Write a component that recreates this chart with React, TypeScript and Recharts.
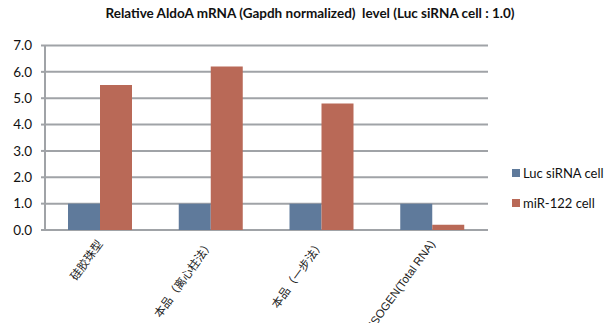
import React from "react";
import { BarChart, Bar, XAxis, YAxis, CartesianGrid } from "recharts";

const categories = ["硅胶珠型", "本品（离心柱法）", "本品（一步法）", "ISOGEN(Total RNA)"];
const lucSiRNA = [1.0, 1.0, 1.0, 1.0];
const mir122 = [5.5, 6.2, 4.8, 0.2];
const yTicks = [0, 1, 2, 3, 4, 5, 6, 7];
const boundaryTicks = [0, 1, 2, 3, 4];

const seriesNames = ["Luc siRNA cell", "miR-122 cell"];
const BLUE = "#5f7a9b";
const RED = "#b96957";
const GRID = "#a0a3a7";
const LATIN = "Lato, 'Liberation Sans', sans-serif";

const data = categories.map((name, i) => ({
  name,
  luc: lucSiRNA[i],
  mir: mir122[i],
}));

const CategoryTick = (props: any) => {
  const { x, y, payload } = props;
  const ax = x + 3;
  const ay = y + 6;
  return (
    <text
      x={ax}
      y={ay}
      transform={`rotate(-54, ${ax}, ${ay})`}
      textAnchor="end"
      fontSize={11.5}
      fill="#222"
      fontFamily="'Liberation Sans', 'Noto Sans CJK SC', sans-serif"
    >
      {payload.value}
    </text>
  );
};

// Series key drawn to the right of the plot area
const SeriesKey = () => (
  <div
    style={{
      position: "absolute",
      left: 512,
      top: 165,
      fontFamily: LATIN,
      fontSize: 13,
      color: "#111",
    }}
  >
    {seriesNames.map((n, i) => (
      <div
        key={n}
        style={{ display: "flex", alignItems: "center", height: 16, marginBottom: i === 0 ? 14 : 0, whiteSpace: "nowrap" }}
      >
        <span
          style={{
            display: "inline-block",
            width: 8,
            height: 8,
            background: i === 0 ? BLUE : RED,
            marginRight: 3,
          }}
        />
        <span>{n}</span>
      </div>
    ))}
  </div>
);

export default function App() {
  return (
    <div style={{ position: "absolute", left: 0, top: 0, width: 604, height: 323, background: "#fff", overflow: "hidden" }}>
      <BarChart
        width={604}
        height={323}
        data={data}
        margin={{ top: 45.5, right: 116, bottom: 0, left: 0 }}
        barGap={0}
        barSize={32}
      >
        <CartesianGrid xAxisId="c" vertical={false} stroke={GRID} strokeWidth={2} />
        <XAxis
          xAxisId="b"
          type="number"
          domain={[0, 4]}
          ticks={boundaryTicks}
          allowDataOverflow
          height={0}
          tick={false}
          tickSize={4}
          tickLine={{ stroke: GRID, strokeWidth: 1.5 }}
          axisLine={{ stroke: GRID, strokeWidth: 2 }}
        />
        <XAxis
          xAxisId="c"
          dataKey="name"
          height={93}
          interval={0}
          tickLine={false}
          axisLine={false}
          tick={<CategoryTick />}
        />
        <YAxis
          domain={[0, 7]}
          ticks={yTicks}
          width={45}
          interval={0}
          tickFormatter={(v: number) => v.toFixed(1)}
          tick={{ fontSize: 13.5, fill: "#111", fontFamily: LATIN }}
          tickSize={4}
          tickMargin={9}
          tickLine={{ stroke: GRID, strokeWidth: 2 }}
          axisLine={{ stroke: GRID, strokeWidth: 2 }}
        />
        <Bar xAxisId="c" dataKey="luc" name={seriesNames[0]} fill={BLUE} isAnimationActive={false} />
        <Bar xAxisId="c" dataKey="mir" name={seriesNames[1]} fill={RED} isAnimationActive={false} />
      </BarChart>
      <div
        style={{
          position: "absolute",
          left: 0,
          width: 620,
          top: 5,
          textAlign: "center",
          fontFamily: LATIN,
          fontWeight: 700,
          fontSize: 13.5,
          color: "#111",
          whiteSpace: "pre",
        }}
      >
        {"Relative AldoA mRNA (Gapdh normalized)  level (Luc siRNA cell : 1.0)"}
      </div>
      <SeriesKey />
    </div>
  );
}
